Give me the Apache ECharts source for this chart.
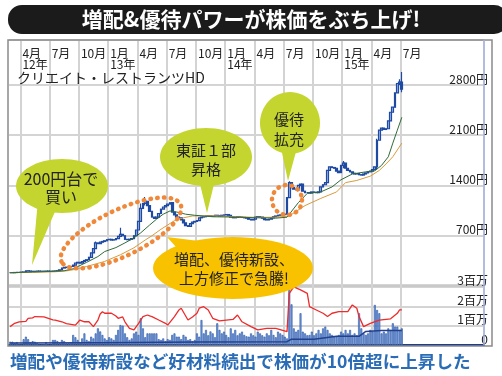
<!DOCTYPE html>
<html>
<head>
<meta charset="utf-8">
<script src="https://cdn.jsdelivr.net/npm/echarts@6/dist/echarts.min.js"></script>
<style>
html, body { margin: 0; padding: 0; background: #fff; }
#chart { width: 502px; height: 376px; }
</style>
</head>
<body>
<div id="chart"></div>
<script>
// 週足：2012年2月末〜（右側は空白の週も含む）
const weekCount = 211
const quarterLabels = ['4月\n12年', '7月', '10月', '1月\n13年', '4月', '7月', '10月', '1月\n14年', '4月', '7月', '10月', '1月\n15年', '4月', '7月']

// 終値（円）
const closes = [
  185, 185, 188, 190, 190, 192, 195, 212, 208, 205,
  203, 205, 208, 206, 205, 207, 208, 206, 205, 208,
  210, 212, 225, 250, 258, 262, 268, 272, 290, 320,
  330, 318, 340, 355, 366, 400, 460, 520, 600, 590,
  610, 620, 630, 645, 650, 640, 645, 660, 690, 720,
  700, 650, 645, 650, 660, 700, 780, 900, 1080, 1150,
  1180, 1120, 1040, 960, 940, 960, 1010, 1070, 1100, 1120,
  1140, 1160, 1030, 990, 960, 950, 920, 880, 840, 830,
  870, 890, 900, 910, 950, 960, 965, 975, 980, 970,
  975, 985, 980, 975, 985, 990, 995, 985, 960, 950,
  955, 965, 960, 955, 950, 945, 930, 920, 930, 960,
  965, 960, 945, 925, 920, 930, 950, 965, 975, 985,
  990, 995, 1000, 1230, 1440, 1370, 1350, 1340, 1400, 1420,
  1320, 1300, 1300, 1295, 1310, 1305, 1300, 1310, 1380, 1410,
  1440, 1610, 1660, 1650, 1640, 1600, 1580, 1680, 1710, 1640,
  1610, 1590, 1570, 1560, 1565, 1550, 1545, 1560, 1575, 1590,
  1600, 1620, 1660, 2030, 2170, 2200, 2180, 2190, 2300, 2420,
  2490, 2690, 2820, 2840, 2740
]
// 目立つヒゲ [週, 安値, 高値]
const wicks = [
  [7, 195, 216], [38, 520, 620], [49, 690, 811], [58, 900, 1150], [60, 1120, 1240],
  [123, 1150, 1240], [124, 1230, 1460], [148, 1640, 1740], [163, 1620, 2050],
  [173, 2800, 2880], [174, 2700, 2980]
]
// 13週移動平均 [週, 円]
const ma13 = [
  [0, 185], [10, 195], [20, 205], [24, 212], [28, 240], [34, 330], [39, 410], [42, 480],
  [47, 535], [51, 600], [55, 670], [58, 740], [62, 850], [65, 930], [68, 1000], [71, 1045],
  [74, 1030], [78, 1000], [82, 985], [90, 964], [100, 960], [110, 950], [118, 945], [123, 958],
  [128, 1160], [132, 1290], [138, 1310], [143, 1380], [147, 1480], [152, 1560], [158, 1590],
  [162, 1605], [165, 1680], [168, 1800], [170, 1990], [172, 2170], [174, 2350]
]
// 26週移動平均 [週, 円]
const ma26 = [
  [0, 185], [10, 190], [20, 198], [25, 210], [28, 226], [34, 272], [42, 342], [49, 435],
  [55, 532], [60, 640], [63, 700], [67, 790], [71, 870], [73, 910], [77, 950], [81, 975],
  [90, 978], [100, 965], [110, 955], [118, 958], [124, 975], [131, 1120], [138, 1220],
  [145, 1310], [149, 1440], [154, 1470], [160, 1530], [164, 1610], [167, 1700], [170, 1800],
  [174, 1990]
]
// 出来高（百万株）
const volumes = [
  0.17, 0.17, 0.1, 0.15, 0.05, 0.05, 0.3, 0.43, 0.3, 0.15,
  0.2, 0.17, 0.1, 0.05, 0.05, 0.05, 0.15, 0.05, 0.05, 0.26,
  0.26, 0.2, 0.1, 0.26, 0.2, 0.1, 0.1, 0.15, 0.52, 0.4,
  0.26, 0.15, 0.34, 0.6, 0.26, 0.2, 0.43, 0.34, 0.6, 0.86,
  0.7, 0.52, 0.34, 0.26, 0.4, 0.34, 0.26, 0.52, 0.78, 1.03,
  1.0, 0.6, 0.4, 0.26, 0.34, 0.6, 0.69, 0.52, 1.38, 0.86,
  0.4, 0.6, 0.6, 0.6, 0.6, 0.6, 0.3, 0.26, 0.34, 0.2,
  0.3, 0.26, 0.52, 0.6, 0.43, 0.43, 0.3, 0.52, 0.43, 0.26,
  0.3, 0.2, 0.26, 0.6, 0.43, 1.29, 0.6, 0.78, 0.5, 0.7,
  0.6, 0.4, 1.12, 0.78, 0.6, 0.69, 0.52, 0.4, 0.86, 0.6,
  0.78, 0.5, 0.6, 0.69, 0.52, 0.45, 0.43, 0.6, 0.5, 0.43,
  0.69, 0.6, 0.5, 0.43, 0.6, 0.5, 0.78, 0.52, 0.4, 0.69,
  0.6, 0.52, 0.43, 0.34, 3.0, 2.1, 0.86, 0.69, 0.78, 1.64,
  0.69, 0.6, 0.5, 0.52, 0.69, 0.5, 0.6, 0.78, 0.6, 0.86,
  0.95, 0.78, 0.6, 0.52, 0.43, 0.43, 0.52, 0.69, 0.6, 0.78,
  0.6, 0.78, 0.52, 0.6, 0.5, 1.64, 0.86, 0.6, 0.52, 0.6,
  0.78, 0.7, 2.07, 1.81, 1.64, 0.6, 0.69, 0.6, 0.86, 0.78,
  1.12, 0.95, 0.95, 0.78, 0.86
]
// 出来高エリアの赤線 [週, 値]
const redLine = [
  [0, 0.95], [2, 1.12], [4, 1.2], [7, 1.22], [8, 1.38], [10, 1.4], [11, 1.47], [15, 1.45],
  [19, 1.3], [20, 1.29], [23, 1.2], [25, 1.1], [29, 1.03], [31, 1.29], [33, 1.2], [35, 1.2],
  [37, 0.95], [39, 1.29], [40, 1.6], [41, 1.72], [42, 1.64], [45, 1.64], [47, 1.5], [48, 1.38],
  [50, 1.45], [51, 1.2], [53, 0.86], [55, 0.78], [57, 1.1], [59, 1.47], [61, 1.55], [62, 1.5],
  [63, 1.47], [66, 1.29], [69, 1.12], [70, 1.03], [73, 1.47], [75, 1.81], [76, 1.9], [79, 1.29],
  [81, 1.45], [83, 1.64], [84, 1.9], [86, 1.98], [88, 1.81], [90, 1.38], [93, 1.25], [96, 1.29],
  [99, 1.32], [101, 1.55], [103, 1.2], [107, 0.95], [110, 0.78], [114, 0.86], [118, 0.86],
  [123, 0.69], [124, 2.67], [126, 3.0], [129, 2.85], [132, 2.67], [133, 1.98], [136, 1.81],
  [139, 1.64], [141, 1.47], [143, 1.64], [146, 1.72], [150, 1.72], [152, 2.07], [154, 1.9],
  [155, 1.47], [157, 0.95], [160, 1.12], [164, 1.29], [169, 1.35], [172, 1.64], [173, 1.81],
  [174, 1.81]
]
// 出来高エリアの紺線 [週, 値]
const navyLine = [
  [0, 0.1], [40, 0.12], [84, 0.15], [123, 0.17], [125, 0.3], [135, 0.3], [145, 0.45],
  [155, 0.45], [158, 0.7], [165, 0.75], [174, 0.75]
]

const firstQuarterWeek = 5
const weeksPerQuarter = 13
function quarterOf(i) {
  if (i < firstQuarterWeek || (i - firstQuarterWeek) % weeksPerQuarter) return -1
  const q = (i - firstQuarterWeek) / weeksPerQuarter
  return q < quarterLabels.length ? q : -1
}
const isQuarter = (i) => quarterOf(i) >= 0

const categories = Array.from({ length: weekCount }, (_, i) => 'w' + i)

// [始値, 終値, 安値, 高値]（始値は前週終値）
const candles = closes.map((c, i) => {
  const o = i ? closes[i - 1] : c
  let lo = Math.min(o, c)
  let hi = Math.max(o, c)
  const w = wicks.find(d => d[0] === i)
  if (w) { lo = Math.min(lo, w[1]); hi = Math.max(hi, w[2]) }
  return [o, c, lo, hi]
})

const chart = echarts.init(document.getElementById('chart'), null, { renderer: 'canvas' })
const jp = '"Noto Sans CJK JP", sans-serif'
const dotted = { fill: 'none', stroke: '#f0883a', lineWidth: 4.5, lineDash: [0.5, 6.3], lineCap: 'round' }

const option = {
  animation: false,
  textStyle: { fontFamily: jp },
  grid: [
    { left: 9, top: 40, width: 475, height: 246 },
    { left: 9, top: 285, width: 475, height: 60 }
  ],
  xAxis: [
    {
      type: 'category', gridIndex: 0, data: categories, position: 'top', boundaryGap: true,
      axisLine: { show: false }, axisTick: { show: false },
      axisLabel: {
        inside: true, interval: (i) => isQuarter(i), margin: 8,
        formatter: (v, i) => quarterLabels[quarterOf(i)] || '',
        align: 'left', verticalAlign: 'top', fontSize: 12, lineHeight: 11, color: '#222',
        padding: [0, 0, 0, 1]
      },
      splitLine: { show: true, interval: (i) => isQuarter(i), lineStyle: { color: '#d3d3d3', width: 2 } }
    },
    {
      type: 'category', gridIndex: 1, data: categories, boundaryGap: true,
      axisLine: { show: true, lineStyle: { color: '#1f3d8c', width: 2 } },
      axisTick: { show: false }, axisLabel: { show: false },
      splitLine: { show: true, interval: (i) => isQuarter(i), lineStyle: { color: '#d3d3d3', width: 2 } }
    }
  ],
  yAxis: [
    {
      type: 'value', gridIndex: 0, position: 'right', min: 0, max: 3426, interval: 700,
      axisLine: { show: false }, axisTick: { show: false },
      axisLabel: {
        inside: true, margin: -4, verticalAlign: 'bottom', fontSize: 12, color: '#222',
        formatter: (v) => (v > 0 && v <= 2800 ? v + '円' : '')
      },
      splitLine: { lineStyle: { color: '#c6c6c6', width: 1.5 } }
    },
    {
      type: 'value', gridIndex: 1, position: 'right', min: 0, max: 3.1, interval: 1,
      axisLine: { show: false }, axisTick: { show: false },
      axisLabel: {
        inside: true, margin: -4, verticalAlign: 'bottom', fontSize: 12, color: '#222',
        formatter: (v) => (v === 0 ? '0' : v <= 3 ? v + '百万' : '')
      },
      splitLine: { lineStyle: { color: '#c6c6c6', width: 1.5 } }
    }
  ],
  series: [
    {
      type: 'candlestick', xAxisIndex: 0, yAxisIndex: 0, data: candles, barWidth: '100%',
      itemStyle: { color: '#9bb6e6', color0: '#1f4aa3', borderColor: '#1f4aa3', borderColor0: '#1f4aa3', borderWidth: 1.2 }
    },
    { type: 'line', xAxisIndex: 0, yAxisIndex: 0, data: ma26, symbol: 'none', lineStyle: { color: '#d99a3a', width: 1 }, z: 3 },
    { type: 'line', xAxisIndex: 0, yAxisIndex: 0, data: ma13, symbol: 'none', lineStyle: { color: '#2f6b37', width: 1 }, z: 3 },
    {
      type: 'bar', xAxisIndex: 1, yAxisIndex: 1, data: volumes, barWidth: '85%',
      itemStyle: { color: '#79a0dc', borderColor: '#2450a6', borderWidth: 0.6 }
    },
    { type: 'line', xAxisIndex: 1, yAxisIndex: 1, data: navyLine, symbol: 'none', lineStyle: { color: '#23408e', width: 1.5 }, z: 3 },
    { type: 'line', xAxisIndex: 1, yAxisIndex: 1, data: redLine, symbol: 'none', lineStyle: { color: '#ee2a2a', width: 1.3 }, z: 4 }
  ],
  graphic: [
    { type: 'rect', shape: { x: 8, y: 5, width: 500, height: 29, r: 14 }, style: { fill: '#1b1b1b' }, z: 50 },
    { type: 'text', x: 251, y: 19.5, z: 51, style: { text: '増配&優待パワーが株価をぶち上げ!', fill: '#fff', font: 'bold 21px ' + jp, textAlign: 'center', textVerticalAlign: 'middle' } },
    { type: 'rect', shape: { x: 8, y: 40, width: 484, height: 306 }, style: { fill: 'none', stroke: '#8a8a8a', lineWidth: 1.5 }, z: 40 },
    { type: 'line', shape: { x1: 484, y1: 40, x2: 484, y2: 345 }, style: { stroke: '#a9b3e6', lineWidth: 1.5 }, z: 40 },
    { type: 'text', x: 17, y: 78, z: 41, style: { text: 'クリエイト・レストランツHD', fill: '#222', font: '14px ' + jp, textVerticalAlign: 'middle' } },

    { type: 'ellipse', x: 121, y: 233, rotation: 0.45, shape: { cx: 0, cy: 0, rx: 66, ry: 23 }, style: dotted, z: 60 },
    { type: 'circle', shape: { cx: 287, cy: 200, r: 15 }, style: dotted, z: 60 },

    { type: 'polygon', shape: { points: [[38, 200], [60, 200], [32, 265]] }, style: { fill: '#c4d52f' }, z: 70 },
    { type: 'ellipse', shape: { cx: 62, cy: 186, rx: 46, ry: 27 }, style: { fill: '#c4d52f' }, z: 70 },
    { type: 'text', x: 61, y: 179, z: 71, style: { text: '200円台で', fill: '#222', font: '16px ' + jp, textAlign: 'center', textVerticalAlign: 'middle' } },
    { type: 'text', x: 61, y: 197, z: 71, style: { text: '買い', fill: '#222', font: '16px ' + jp, textAlign: 'center', textVerticalAlign: 'middle' } },

    { type: 'polygon', shape: { points: [[199, 180], [215, 180], [207, 213]] }, style: { fill: '#c4d52f' }, z: 70 },
    { type: 'ellipse', shape: { cx: 206, cy: 157, rx: 46, ry: 29 }, style: { fill: '#c4d52f' }, z: 70 },
    { type: 'text', x: 206, y: 150, z: 71, style: { text: '東証１部', fill: '#222', font: '15px ' + jp, textAlign: 'center', textVerticalAlign: 'middle' } },
    { type: 'text', x: 206, y: 169, z: 71, style: { text: '昇格', fill: '#222', font: '15px ' + jp, textAlign: 'center', textVerticalAlign: 'middle' } },

    { type: 'polygon', shape: { points: [[281, 148], [297, 148], [288, 181]] }, style: { fill: '#c4d52f' }, z: 70 },
    { type: 'ellipse', shape: { cx: 290, cy: 123, rx: 30, ry: 31 }, style: { fill: '#c4d52f' }, z: 70 },
    { type: 'text', x: 289, y: 119, z: 71, style: { text: '優待', fill: '#222', font: '15px ' + jp, textAlign: 'center', textVerticalAlign: 'middle' } },
    { type: 'text', x: 289, y: 139, z: 71, style: { text: '拡充', fill: '#222', font: '15px ' + jp, textAlign: 'center', textVerticalAlign: 'middle' } },

    { type: 'polygon', shape: { points: [[167, 237], [215, 243], [186, 258]] }, style: { fill: '#f8c200' }, z: 70 },
    { type: 'ellipse', shape: { cx: 233, cy: 268, rx: 80, ry: 31 }, style: { fill: '#f8c200' }, z: 70 },
    { type: 'text', x: 234, y: 259, z: 71, style: { text: '増配、優待新設、', fill: '#222', font: '15px ' + jp, textAlign: 'center', textVerticalAlign: 'middle' } },
    { type: 'text', x: 234, y: 278, z: 71, style: { text: '上方修正で急騰!', fill: '#222', font: '15px ' + jp, textAlign: 'center', textVerticalAlign: 'middle' } },

    { type: 'text', x: 10, y: 361, z: 41, style: { text: '増配や優待新設など好材料続出で株価が10倍超に上昇した', fill: '#2a6cb6', font: 'bold 17.6px ' + jp, textVerticalAlign: 'middle' } }
  ]
}

chart.setOption(option)
</script>
</body>
</html>
